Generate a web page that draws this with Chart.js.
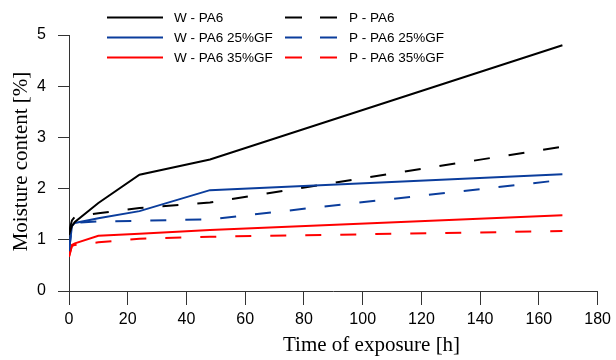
<!DOCTYPE html>
<html>
<head>
<meta charset="utf-8">
<script src="https://cdn.jsdelivr.net/npm/chart.js@4/dist/chart.umd.min.js"></script>
<style>
  html, body { margin: 0; padding: 0; background: #fff; }
  #wrap { width: 616px; height: 360px; }
</style>
</head>
<body>
<div id="wrap"><canvas id="c" width="616" height="360"></canvas></div>
<script>
// ---- data ----
const times = [0, 1, 2, 10, 24, 48, 168];
const seriesNames = ["W - PA6", "W - PA6 25%GF", "W - PA6 35%GF", "P - PA6", "P - PA6 25%GF", "P - PA6 35%GF"];
const wPA6      = [1.10, 1.27, 1.35, 1.72, 2.27, 2.57, 4.80];
const wPA6gf25  = [0.78, 1.27, 1.33, 1.42, 1.56, 1.97, 2.28];
const wPA6gf35  = [0.67, 0.90, 0.93, 1.08, 1.12, 1.19, 1.48];
const pPA6      = [1.15, 1.38, 1.45, 1.52, 1.62, 1.73, 2.82];
const pPA6gf25  = [0.78, 1.27, 1.33, 1.36, 1.37, 1.40, 2.17];
const pPA6gf35  = [0.67, 0.88, 0.90, 0.95, 1.02, 1.06, 1.17];
const xTicks = [0, 20, 40, 60, 80, 100, 120, 140, 160, 180];
const yTicks = [0, 1, 2, 3, 4, 5];
const xTitle = "Time of exposure [h]";
const yTitle = "Moisture content [%]";

// ---- styles ----
const BLACK = '#000000', BLUE = '#0b3d9c', RED = '#ff0000';
const DASH = [16, 19];
const AXIS = '#333333';
const SANS = "'Liberation Sans', Arial, sans-serif";
const SERIF = "'Liberation Serif', 'Times New Roman', serif";

function pts(vals) { return vals.map((v, i) => ({ x: times[i], y: v })); }
function ds(name, vals, color, dashed) {
  return {
    label: name, data: pts(vals), borderColor: color, backgroundColor: color,
    borderWidth: 2, borderDash: dashed ? DASH : [], pointRadius: 0, tension: 0, fill: false
  };
}

const datasets = [
  ds(seriesNames[0], wPA6, BLACK, false),
  ds(seriesNames[1], wPA6gf25, BLUE, false),
  ds(seriesNames[2], wPA6gf35, RED, false),
  ds(seriesNames[3], pPA6, BLACK, true),
  ds(seriesNames[4], pPA6gf25, BLUE, true),
  ds(seriesNames[5], pPA6gf35, RED, true)
];

// custom legend (two columns) + axis titles
const decor = {
  id: 'decor',
  afterDraw(chart) {
    const ctx = chart.ctx;
    ctx.save();
    const rows = [17.5, 37.5, 57.5];
    ctx.font = "13.5px " + SANS;
    ctx.textBaseline = 'middle';
    ctx.textAlign = 'left';
    chart.data.datasets.forEach((d, i) => {
      const col = i < 3 ? 0 : 1;
      const y = rows[i % 3];
      ctx.strokeStyle = d.borderColor;
      ctx.lineWidth = 2;
      ctx.setLineDash([]);
      ctx.beginPath();
      if (col === 0) {
        ctx.moveTo(107, y); ctx.lineTo(163, y);
      } else {
        ctx.moveTo(285, y); ctx.lineTo(302, y);
        ctx.moveTo(320, y); ctx.lineTo(337, y);
      }
      ctx.stroke();
      ctx.fillStyle = '#000';
      ctx.fillText(d.label, col === 0 ? 174 : 349, y + 0.5);
    });
    // x title
    ctx.font = "21px " + SERIF;
    ctx.textBaseline = 'alphabetic';
    ctx.textAlign = 'left';
    ctx.fillStyle = '#000';
    ctx.fillText(xTitle, 283, 351);
    // y title
    ctx.translate(27, 161.5);
    ctx.rotate(-Math.PI / 2);
    ctx.textAlign = 'center';
    ctx.fillText(yTitle, 0, 0);
    ctx.restore();
  }
};

new Chart(document.getElementById('c'), {
  type: 'line',
  data: { datasets },
  options: {
    responsive: false,
    animation: false,
    devicePixelRatio: 1,
    layout: { padding: { left: 0, right: 16, top: 35, bottom: 0 } },
    plugins: { legend: { display: false }, tooltip: { enabled: false }, title: { display: false } },
    scales: {
      x: {
        type: 'linear', min: 0, max: 180,
        afterBuildTicks(s) { s.ticks = xTicks.map(v => ({ value: v })); },
        afterFit(s) { s.height = 69; },
        grid: { display: true, drawOnChartArea: false, drawTicks: true, tickLength: 14, color: AXIS, lineWidth: 1 },
        border: { display: true, color: AXIS, width: 1 },
        ticks: { padding: 5, color: '#000', font: { family: SANS, size: 16 }, maxRotation: 0 }
      },
      y: {
        type: 'linear', min: 0, max: 5,
        afterBuildTicks(s) { s.ticks = yTicks.map(v => ({ value: v })); },
        afterFit(s) { s.width = 69; },
        grid: { display: true, drawOnChartArea: false, drawTicks: true, tickLength: 11, color: AXIS, lineWidth: 1 },
        border: { display: true, color: AXIS, width: 1 },
        ticks: { padding: 12, color: '#000', font: { family: SANS, size: 16 } }
      }
    }
  },
  plugins: [decor]
});
</script>
</body>
</html>
